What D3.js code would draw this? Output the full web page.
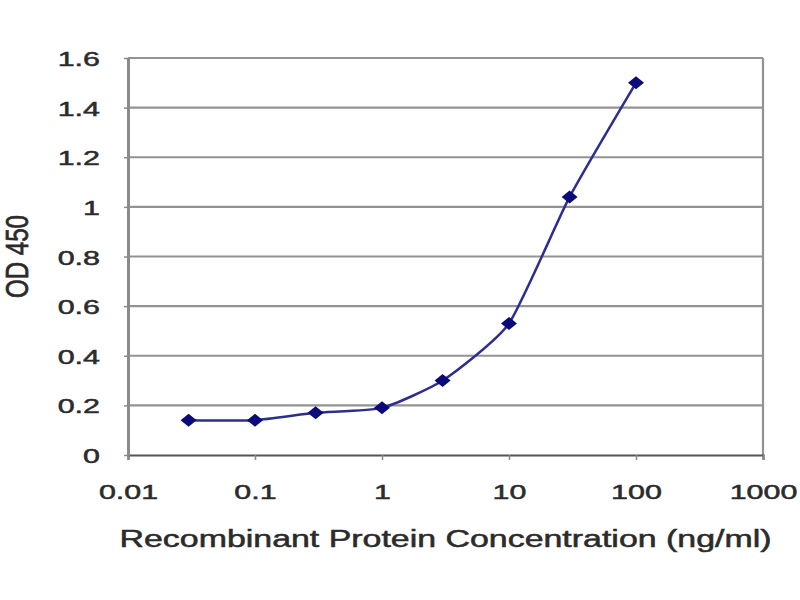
<!DOCTYPE html>
<html>
<head>
<meta charset="utf-8">
<script src="https://cdn.jsdelivr.net/npm/d3@7"></script>
<style>
  body { margin: 0; background: #fff; }
  svg { display: block; }
</style>
</head>
<body>
<div id="chart"></div>
<script>
// data
const concentrations = [0.03, 0.1, 0.3, 1, 3, 10, 30, 100];
const odValues = [0.14, 0.14, 0.17, 0.19, 0.30, 0.53, 1.04, 1.50];
const xTicks = [0.01, 0.1, 1, 10, 100, 1000];
const xTickLabels = ["0.01", "0.1", "1", "10", "100", "1000"];
const yTicks = [0, 0.2, 0.4, 0.6, 0.8, 1, 1.2, 1.4, 1.6];
const yTickLabels = ["0", "0.2", "0.4", "0.6", "0.8", "1", "1.2", "1.4", "1.6"];

const W = 800, H = 600;
const margin = {top: 58, right: 37, bottom: 145, left: 128};
const width = W - margin.left - margin.right;
const height = H - margin.top - margin.bottom;
const stretch = 1.45; // the source text is wide, squeeze it out horizontally
const textColor = "#2b2b2b";

const svg = d3.select("#chart")
    .append("svg")
    .attr("width", W)
    .attr("height", H)
    .style("font-family", "'Liberation Sans', Arial, sans-serif");

svg.append("rect").attr("width", W).attr("height", H).attr("fill", "#fff");

const g = svg.append("g")
    .attr("transform", `translate(${margin.left},${margin.top})`);

const x = d3.scaleLog().domain([0.01, 1000]).range([0, width]);
const y = d3.scaleLinear().domain([0, 1.6]).range([height, 0]);

// horizontal gridlines
g.append("g")
    .selectAll("line")
    .data(yTicks.slice(1))
    .enter()
    .append("line")
    .attr("x1", 0)
    .attr("x2", width)
    .attr("y1", d => y(d))
    .attr("y2", d => y(d))
    .attr("stroke", "#939393")
    .attr("stroke-width", 2.2);

// right border
g.append("line")
    .attr("x1", width).attr("x2", width)
    .attr("y1", 0).attr("y2", height)
    .attr("stroke", "#939393")
    .attr("stroke-width", 2.2);

// X axis
const xAxis = g.append("g")
    .attr("transform", `translate(0,${height})`)
    .call(d3.axisBottom(x)
        .tickValues(xTicks)
        .tickFormat((d, i) => xTickLabels[i])
        .tickSize(5)
        .tickPadding(0));
xAxis.select(".domain").attr("stroke", "#555").attr("stroke-width", 2.2);
xAxis.selectAll(".tick line").attr("stroke", "#888").attr("stroke-width", 1.5);
xAxis.selectAll(".tick text")
    .attr("y", 0)
    .attr("dy", null)
    .attr("transform", `translate(0,44) scale(${stretch},1)`)
    .attr("font-size", 21)
    .attr("fill", textColor)
    .attr("stroke", textColor)
    .attr("stroke-width", 0.5);

// Y axis
const yAxis = g.append("g")
    .call(d3.axisLeft(y)
        .tickValues(yTicks)
        .tickFormat((d, i) => yTickLabels[i])
        .tickSize(4)
        .tickSizeOuter(0)
        .tickPadding(0));
yAxis.select(".domain").attr("stroke", "#8a8a8a").attr("stroke-width", 3);
yAxis.selectAll(".tick line").attr("stroke", "#8a8a8a").attr("stroke-width", 1.5);
yAxis.selectAll(".tick text")
    .attr("x", 0)
    .attr("dy", "0.36em")
    .attr("transform", `translate(-28,0) scale(${stretch},1)`)
    .attr("font-size", 21)
    .attr("fill", textColor)
    .attr("stroke", textColor)
    .attr("stroke-width", 0.5);

// axis titles
svg.append("text")
    .attr("x", margin.left + width / 2)
    .attr("y", 547)
    .attr("text-anchor", "middle")
    .attr("font-size", 23)
    .attr("fill", textColor)
    .attr("stroke", textColor)
    .attr("stroke-width", 0.5)
    .attr("textLength", 652)
    .attr("lengthAdjust", "spacingAndGlyphs")
    .text("Recombinant Protein Concentration (ng/ml)");

svg.append("text")
    .attr("transform", `translate(28,${margin.top + height / 2}) scale(${stretch},1) rotate(-90)`)
    .attr("text-anchor", "middle")
    .attr("font-size", 22)
    .attr("fill", textColor)
    .attr("stroke", textColor)
    .attr("stroke-width", 0.5)
    .attr("textLength", 83)
    .attr("lengthAdjust", "spacingAndGlyphs")
    .text("OD 450");

// data line, smoothed like the source
const points = concentrations.map((c, i) => ({c: c, v: odValues[i]}));

const line = d3.line()
    .x(d => x(d.c))
    .y(d => y(d.v))
    .curve(d3.curveCardinal.tension(0.45));

g.append("path")
    .datum(points)
    .attr("d", line)
    .attr("fill", "none")
    .attr("stroke", "#2e2e8e")
    .attr("stroke-width", 2.5);

// diamond markers
g.selectAll(".marker")
    .data(points)
    .enter()
    .append("path")
    .attr("class", "marker")
    .attr("transform", d => `translate(${x(d.c)},${y(d.v)})`)
    .attr("d", "M-8,0L0,-6.5L8,0L0,6.5Z")
    .attr("fill", "#0a0a78");
</script>
</body>
</html>
